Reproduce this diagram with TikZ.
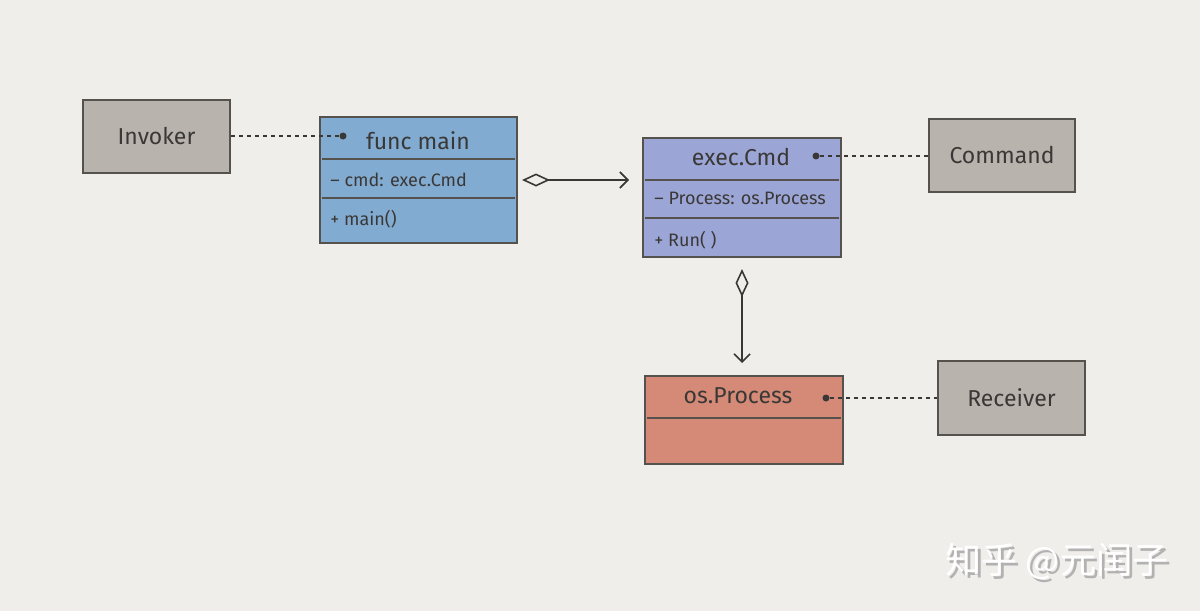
\documentclass[tikz,border=0pt]{standalone}
\usepackage{fontspec}
\setmainfont{Fira Sans}
\newfontfamily\cjk{Noto Sans CJK SC}
\usetikzlibrary{arrows.meta,calc}
\definecolor{bg}{HTML}{EFEEEA}
\definecolor{greybox}{HTML}{B9B3AD}
\definecolor{bluebox}{HTML}{82ABD1}
\definecolor{purplebox}{HTML}{9CA6D6}
\definecolor{redbox}{HTML}{D48A76}
\definecolor{edge}{HTML}{55514D}
\definecolor{ink}{HTML}{3A3836}
\tikzset{
  box/.style={draw=edge, line width=1pt, rectangle, inner sep=0pt},
  rolebox/.style={box, fill=greybox, minimum width=73.5pt, minimum height=36.5pt, font=\fontsize{11.5}{13}\selectfont, text=ink},
  divider/.style={draw=edge, line width=0.9pt},
  title/.style={font=\fontsize{11.5}{13}\selectfont, text=ink, inner sep=0pt},
  member/.style={font=\fontsize{9}{11}\selectfont, text=ink, anchor=west, inner sep=0pt},
  dotmark/.style={circle, fill=ink, inner sep=0pt, minimum size=3.5pt},
  link/.style={draw=ink, line width=0.8pt, dash pattern=on 2.2pt off 1.8pt},
  assoc/.style={draw=ink, line width=0.9pt, arrows={Diamond[open, length=14pt, width=6.5pt, line width=0.8pt]-Straight Barb[length=4pt, width=8pt, line width=0.8pt]}}
}
\begin{document}
\begin{tikzpicture}[x=0.5pt, y=-0.5pt]
\fill[bg] (0,0) rectangle (1200,611);
\useasboundingbox (0,0) rectangle (1200,611);

% role boxes
\node[rolebox] (inv) at (156.5,136.5) {Invoker};
\node[rolebox, minimum width=73pt] (cmd) at (1002,155.5) {Command};
\node[rolebox, minimum height=37pt] (rcv) at (1011.5,398) {Receiver};

% func main
\node[box, fill=bluebox, minimum width=98.5pt, minimum height=63pt] (fm) at (418.5,180) {};
\draw[divider] (322,159) -- (515,159);
\draw[divider] (322,198) -- (515,198);
\node[title] (fmt) at (418,141) {func main};
\node[dotmark] (fmd) at (343,136) {};
\node[member] (fm1) at (330,180) {– cmd: exec.Cmd};
\node[member] (fm2) at (330,219) {+ main()};

% exec.Cmd
\node[box, fill=purplebox, minimum width=99pt, minimum height=59.5pt] (ec) at (742,197.5) {};
\draw[divider] (645,180) -- (839,180);
\draw[divider] (645,218) -- (839,218);
\node[title] (ect) at (741,157) {exec.Cmd};
\node[dotmark] (ecd) at (816,156) {};
\node[member] (ec1) at (654,198) {– Process: os.Process};
\node[member] (ec2) at (654,240) {+ Run( )};

% os.Process
\node[box, fill=redbox, minimum width=99pt, minimum height=44pt] (op) at (744,420) {};
\draw[divider] (647,418) -- (841,418);
\node[title] (opt) at (738,396) {os.Process};
\node[dotmark] (opd) at (826,398) {};

% dotted links
\draw[link] (inv.east |- fmd) -- (fmd);
\draw[link] (ecd) -- (ecd -| cmd.west);
\draw[link] (opd) -- (opd -| rcv.west);

% associations
\draw[assoc, shorten <=2pt, shorten >=6.5pt] (fm.east) -- (fm.east -| ec.west);
\draw[assoc, shorten <=5.5pt, shorten >=6pt] (ec.south) -- (ec.south |- op.north);

% watermark
\node[font=\cjk\fontsize{18}{21}\selectfont, text=black!30] (wms) at (1060,564) {知乎 @元闰子};
\node[font=\cjk\fontsize{18}{21}\selectfont, text=white] (wm) at (1057,561) {知乎 @元闰子};
\end{tikzpicture}
\end{document}
